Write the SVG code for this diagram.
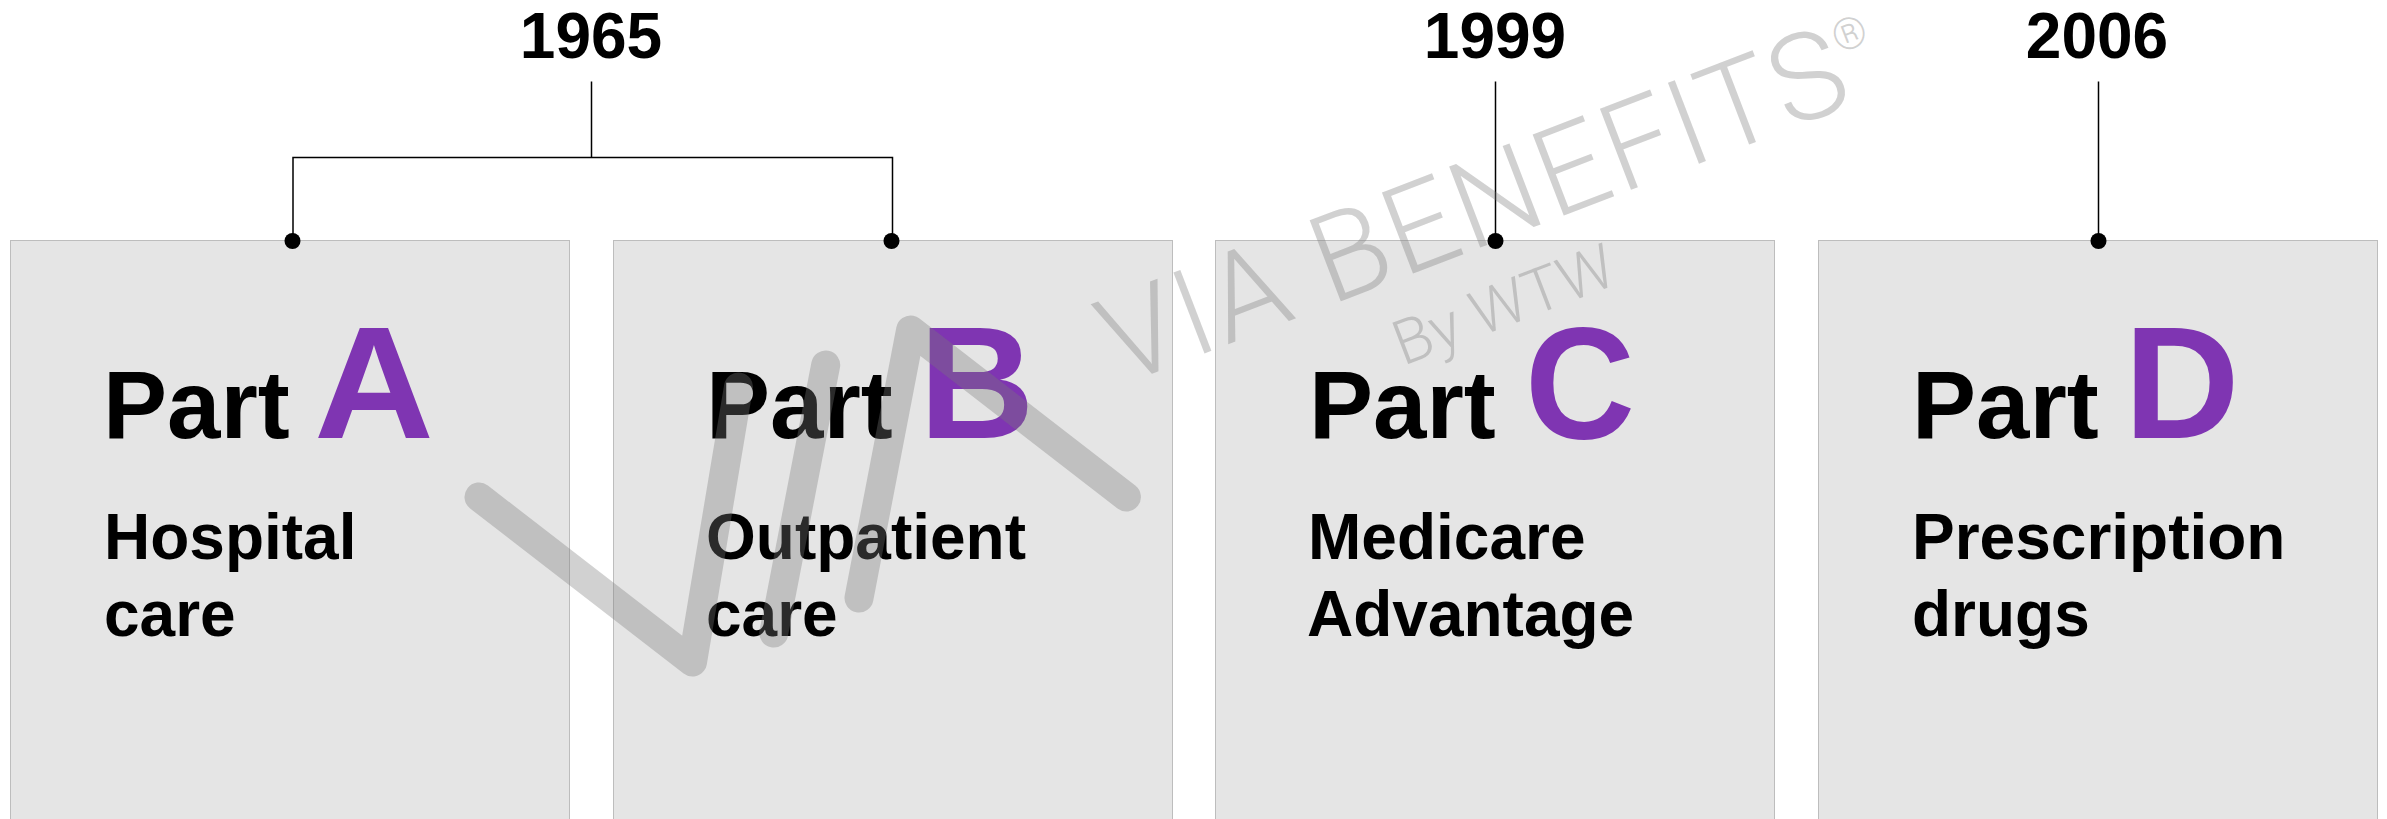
<svg xmlns="http://www.w3.org/2000/svg" width="2387" height="819" viewBox="0 0 2387 819">
<style>
text{font-family:"Liberation Sans",Arial,sans-serif}
.box{fill:#e5e5e5;stroke:#bdbdbd;stroke-width:1}
.year{font-weight:700;font-size:64px;fill:#000;text-anchor:middle}
.part{font-weight:700;font-size:96px;fill:#000}
.letter{font-weight:700;font-size:160px;fill:#7f35b2}
.desc{font-weight:700;font-size:64px;fill:#000}
.conn{fill:none;stroke:#000;stroke-width:1.5}
.dot{fill:#000}
.wm{fill:#7a7a7a;fill-opacity:.345;font-family:Roboto,"Liberation Sans",sans-serif;font-weight:300}
.logo{fill:none;stroke:#7a7a7a;stroke-opacity:.345;stroke-width:29;stroke-linecap:round;stroke-linejoin:round}
</style>
<rect width="2387" height="819" fill="#fff"/>
<g id="partA"><rect class="box" x="10.5" y="240.5" width="559" height="600"/>
<text class="part" x="103" y="438">Part</text><text class="letter" x="314" y="438" textLength="120" lengthAdjust="spacingAndGlyphs">A</text>
<text class="desc" x="104" y="559">Hospital</text><text class="desc" x="104" y="636">care</text></g>
<g id="partB"><rect class="box" x="613.5" y="240.5" width="559" height="600"/>
<text class="part" x="706" y="438">Part</text><text class="letter" x="919" y="438">B</text>
<text class="desc" x="706" y="559">Outpatient</text><text class="desc" x="706" y="636">care</text></g>
<g id="partC"><rect class="box" x="1215.5" y="240.5" width="559" height="600"/>
<text class="part" x="1309" y="438">Part</text><text class="letter" x="1525" y="438" textLength="110" lengthAdjust="spacingAndGlyphs">C</text>
<text class="desc" x="1308" y="559">Medicare</text><text class="desc" x="1307" y="636">Advantage</text></g>
<g id="partD"><rect class="box" x="1818.5" y="240.5" width="559" height="600"/>
<text class="part" x="1912" y="438">Part</text><text class="letter" x="2124" y="438">D</text>
<text class="desc" x="1912" y="559">Prescription</text><text class="desc" x="1912" y="636">drugs</text></g>
<g id="year1965"><text class="year" x="591" y="58">1965</text></g>
<g id="year1999"><text class="year" x="1495" y="58">1999</text></g>
<g id="year2006"><text class="year" x="2097" y="58">2006</text></g>
<g id="connectors">
<path class="conn" d="M591.5 81.5V157.5M293 241V157.5H892.5V241M1495.5 81.5V241M2098.5 81.5V241"/>
<circle class="dot" cx="292.5" cy="241" r="8"/><circle class="dot" cx="891.5" cy="241" r="8"/><circle class="dot" cx="1495.5" cy="241" r="8"/><circle class="dot" cx="2098.5" cy="241" r="8"/>
</g>
<g id="watermark">
<path class="logo" d="M479 497L692.5 662L738.5 387M773.8 633L825.7 365M859 598L910.6 330L1126.4 497"/>
<text class="wm" font-size="122" textLength="788" lengthAdjust="spacing" transform="translate(1120 386) rotate(-21)">VIA BENEFITS</text>
<text class="wm" font-size="44" transform="translate(1838.6 54) rotate(-21)">®</text>
<text class="wm" font-size="62" transform="translate(1403 366) rotate(-21)">By WTW</text>
</g>
</svg>
